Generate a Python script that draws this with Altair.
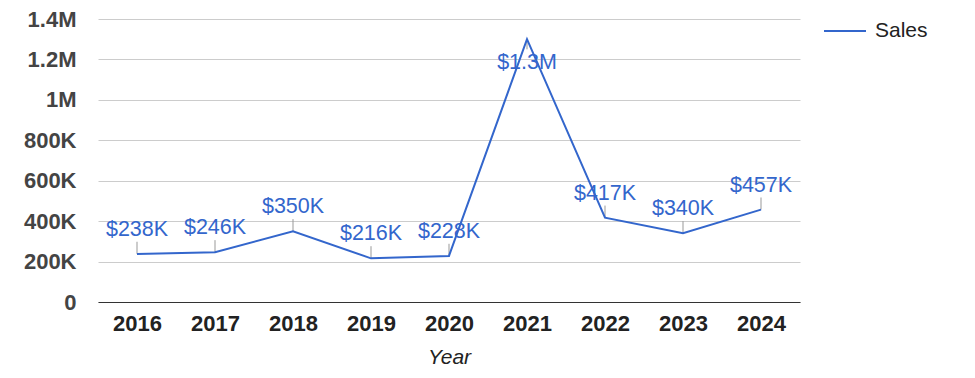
import altair as alt
import pandas as pd

years = ["2016", "2017", "2018", "2019", "2020", "2021", "2022", "2023", "2024"]
sales = [238000, 246000, 350000, 216000, 228000, 1300000, 417000, 340000, 457000]
series = ["Sales"] * len(years)
inside_label = [False, False, False, False, False, True, False, False, False]

df = pd.DataFrame({"Year": years, "Sales": sales, "series": series, "inside": inside_label})

FONT = "Arial"
BLUE = "#3366cc"

x_scale = alt.Scale(type="point", padding=0.5)
x_enc = alt.X("Year:O", scale=x_scale,
              axis=alt.Axis(title="Year", labelAngle=0, labelAlign="center", labelBaseline="top",
                            labelFontWeight="bold", labelFontSize=22,
                            labelColor="#222222", labelPadding=11, ticks=False, domainColor="#333333",
                            domainWidth=1, titleFontStyle="italic", titleFontWeight="normal",
                            titleFontSize=21, titleColor="#222222", titlePadding=12, labelFont=FONT,
                            titleFont=FONT, grid=False))

y_scale = alt.Scale(domain=[0, 1400000], nice=False)
y_axis = alt.Axis(title=None, values=list(range(0, 1400001, 100000)),
                  labelExpr="datum.value % 200000 ? '' : (datum.value == 0 ? '0' : (datum.value >= 1000000 ? (datum.value/1000000) + 'M' : (datum.value/1000) + 'K'))",
                  labelFontWeight="bold", labelFontSize=22, labelColor="#444444", labelFont=FONT,
                  labelPadding=22, ticks=False, domain=False, grid=True,
                  gridColor={"condition": {"test": "datum.value % 200000 === 0", "value": "#cccccc"}, "value": "#ebebeb"},
                  gridWidth=1)

base = alt.Chart(df)
xs = alt.X("Year:O", scale=x_scale)

line = base.mark_line(strokeWidth=2).encode(
    x=x_enc,
    y=alt.Y("Sales:Q", scale=y_scale, axis=y_axis),
    color=alt.Color("series:N", scale=alt.Scale(range=[BLUE]),
                    legend=alt.Legend(title=None, orient="none", legendX=725, legendY=-10,
                                      symbolType="stroke", symbolSize=1764, symbolStrokeWidth=2,
                                      labelFontSize=21, labelFont=FONT, labelColor="#222222",
                                      labelOffset=8, padding=0)),
)

label_expr = "datum.Sales >= 1000000 ? '$' + format(datum.Sales/1000000, '.1f') + 'M' : '$' + format(datum.Sales/1000, '.0f') + 'K'"

leaders_up = base.transform_filter("!datum.inside").transform_calculate(
    top="datum.Sales + 60000").mark_rule(color="#999999", strokeWidth=1).encode(
    x=xs, y="Sales:Q", y2="top:Q")

leaders_down = base.transform_filter("datum.inside").transform_calculate(
    top="datum.Sales - 50000").mark_rule(color="#999999", strokeWidth=1).encode(
    x=xs, y="Sales:Q", y2="top:Q")

labels_up = base.transform_filter("!datum.inside").transform_calculate(
    lbl=label_expr).mark_text(dy=-24, fontSize=21.5, font=FONT, color=BLUE, baseline="middle").encode(
    x=xs, y="Sales:Q", text="lbl:N")

labels_down = base.transform_filter("datum.inside").transform_calculate(
    lbl=label_expr).mark_text(dy=24, fontSize=21.5, font=FONT, color=BLUE, baseline="middle").encode(
    x=xs, y="Sales:Q", text="lbl:N")

chart = alt.layer(leaders_up, leaders_down, line, labels_up, labels_down).properties(
    width=702, height=283,
    background="white",
    autosize=alt.AutoSizeParams(type="none"),
    padding={"left": 90, "top": 11, "right": 167, "bottom": 68},
).configure_view(stroke=None)

chart.save("out.html", embed_options={"renderer": "svg", "actions": False})
